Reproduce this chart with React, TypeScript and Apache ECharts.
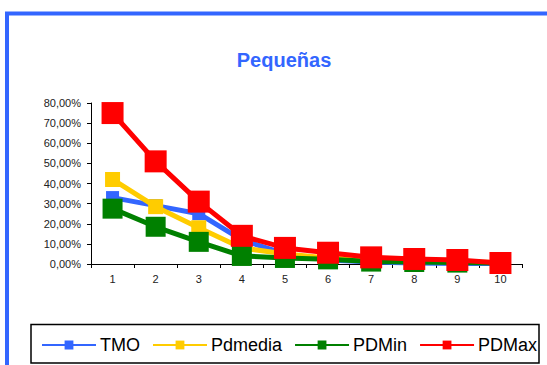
import React, { useEffect, useRef } from "react";
import * as echarts from "echarts";

const categories = ["1", "2", "3", "4", "5", "6", "7", "8", "9", "10"];
const tmo = [33, 29, 25, 12, 5, 2, 1, 0.5, 0.3, 0.2];
const pdMedia = [42, 28.5, 18, 8, 5, 3, 2, 1.5, 1, 0.7];
const pdMin = [27.5, 18.5, 11, 4, 3, 2.3, 1.2, 1, 0.7, 0.5];
const pdMax = [75, 51, 31, 14, 8, 5.6, 3.3, 2.5, 2, 0.5];

const seriesDefs = [
  { name: "TMO", data: tmo, color: "#3366FF", size: 13 },
  { name: "Pdmedia", data: pdMedia, color: "#FFCC00", size: 15 },
  { name: "PDMin", data: pdMin, color: "#008000", size: 20 },
  { name: "PDMax", data: pdMax, color: "#FF0000", size: 22 },
];

const FONT = "'Liberation Sans', Arial, sans-serif";

export default function App() {
  const ref = useRef<HTMLDivElement>(null);

  useEffect(() => {
    if (!ref.current) return;
    const chart = echarts.init(ref.current, undefined, { renderer: "svg" });
    chart.setOption({
      animation: false,
      backgroundColor: "#ffffff",
      title: {
        text: "Pequeñas",
        left: 279,
        textAlign: "center",
        top: 45,
        textStyle: { color: "#3366FF", fontSize: 20, fontWeight: "bold", fontFamily: FONT },
      },
      graphic: [
        {
          type: "rect",
          shape: { x: 7, y: 13.5, width: 700, height: 500 },
          style: { fill: "none", stroke: "#3366FF", lineWidth: 4 },
          silent: true,
        },
        {
          type: "rect",
          shape: { x: 31, y: 324.5, width: 508, height: 38.5 },
          style: { fill: "none", stroke: "#000000", lineWidth: 1.5 },
          silent: true,
        },
      ],
      legend: {
        left: 36,
        top: 331,
        itemWidth: 54,
        itemHeight: 11,
        itemGap: 12,
        textStyle: { fontSize: 18, color: "#000", fontFamily: FONT, padding: [0, 0, 0, -1] },
        data: seriesDefs.map((s) => s.name),
      },
      grid: { left: 91, right: 25, top: 103, bottom: 101, containLabel: false },
      xAxis: {
        type: "category",
        data: categories,
        boundaryGap: true,
        axisLine: { lineStyle: { color: "#000", width: 1 } },
        axisTick: { show: true, length: 4, alignWithLabel: false, lineStyle: { color: "#000" } },
        axisLabel: { fontSize: 11, color: "#222", fontFamily: FONT, margin: 9 },
        splitLine: { show: false },
      },
      yAxis: {
        type: "value",
        min: 0,
        max: 80,
        interval: 10,
        axisLine: { show: true, lineStyle: { color: "#000", width: 1 } },
        axisTick: { show: true, length: 4, lineStyle: { color: "#000" } },
        axisLabel: {
          fontSize: 11,
          color: "#222",
          fontFamily: FONT,
          margin: 10,
          formatter: (v: number) => v.toFixed(2).replace(".", ",") + "%",
        },
        splitLine: { show: false },
      },
      series: seriesDefs.map((s) => ({
        name: s.name,
        type: "line",
        data: s.data,
        symbol: "rect",
        symbolSize: s.size,
        showAllSymbol: true,
        color: s.color,
        lineStyle: { color: s.color, width: 5 },
        itemStyle: { color: s.color },
      })),
    });
    return () => chart.dispose();
  }, []);

  return (
    <div
      ref={ref}
      style={{ position: "fixed", left: 0, top: 0, width: 547, height: 365 }}
    />
  );
}
